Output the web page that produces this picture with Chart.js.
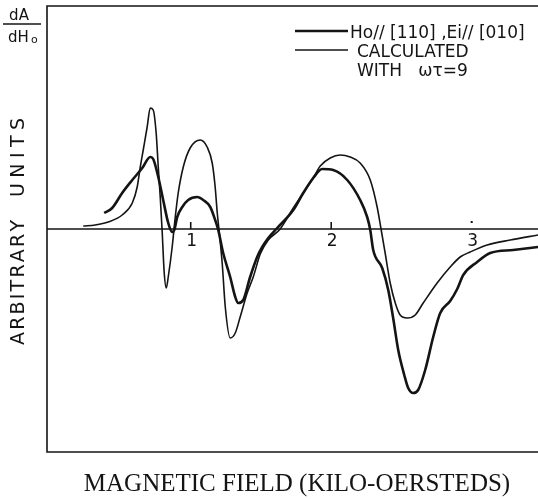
<!DOCTYPE html>
<html>
<head>
<meta charset="utf-8">
<script src="https://cdn.jsdelivr.net/npm/chart.js@4.4.1/dist/chart.umd.min.js"></script>
<style>
  html, body { margin: 0; padding: 0; background: #fff; }
  canvas { display: block; }
</style>
</head>
<body>
<canvas id="c" width="538" height="499"></canvas>
<script>
// field ticks (kilo-oersteds)
const fieldTicks = [1, 2, 3];

// thin curve (sharp, large swings)
const thinX = [0.235, 0.320, 0.413, 0.512, 0.584, 0.619, 0.641, 0.662, 0.690, 0.712, 0.733, 0.754, 0.769, 0.783, 0.797, 0.811, 0.826, 0.840, 0.868, 0.890, 0.911, 0.947, 0.996, 1.068, 1.117, 1.153, 1.174, 1.189, 1.203, 1.224, 1.246, 1.281, 1.317, 1.352, 1.402, 1.445, 1.495, 1.552, 1.637, 1.730, 1.801, 1.872, 1.922, 1.993, 2.064, 2.135, 2.206, 2.278, 2.327, 2.356, 2.384, 2.420, 2.456, 2.491, 2.541, 2.598, 2.655, 2.754, 2.847, 2.918, 2.989, 3.110, 3.274, 3.473];
const thinY = [0.3, 0.4, 0.7, 1.4, 2.6, 4.2, 6.2, 7.9, 10.2, 12.1, 11.9, 9.6, 6.2, 3.2, -0.3, -4.3, -5.9, -4.8, -1.8, 1.2, 3.6, 6.2, 8.1, 8.9, 8.2, 6.6, 4.2, 1.6, -0.3, -3.4, -7.8, -10.9, -10.4, -8.8, -6.4, -4.8, -2.5, -1.1, 0.0, 2.1, 3.6, 5.1, 6.3, 7.1, 7.4, 7.2, 6.6, 4.9, 2.2, -0.1, -2.4, -5.4, -7.4, -8.6, -8.9, -8.6, -7.4, -5.4, -3.8, -2.8, -2.3, -1.6, -1.1, -0.6];

// thick curve
const thickX = [0.384, 0.441, 0.512, 0.584, 0.655, 0.712, 0.733, 0.769, 0.804, 0.840, 0.868, 0.883, 0.904, 0.940, 0.982, 1.046, 1.089, 1.139, 1.174, 1.196, 1.231, 1.281, 1.317, 1.338, 1.374, 1.423, 1.473, 1.509, 1.552, 1.609, 1.730, 1.801, 1.872, 1.936, 2.014, 2.114, 2.206, 2.256, 2.278, 2.299, 2.363, 2.406, 2.441, 2.477, 2.520, 2.548, 2.584, 2.619, 2.669, 2.726, 2.776, 2.847, 2.897, 2.940, 3.039, 3.132, 3.295, 3.473];
const thickY = [1.6, 2.1, 3.6, 4.9, 6.1, 7.2, 7.0, 5.2, 2.9, 0.6, -0.3, -0.1, 1.2, 2.2, 2.9, 3.2, 2.9, 2.2, 0.9, -0.1, -2.4, -4.8, -6.8, -7.4, -7.1, -4.8, -2.8, -1.8, -0.9, 0.0, 1.9, 3.6, 5.1, 6.0, 5.9, 4.9, 2.9, 1.2, -0.1, -2.1, -3.9, -6.1, -8.9, -12.1, -14.6, -15.9, -16.4, -16.1, -14.1, -10.8, -8.4, -7.2, -6.0, -4.6, -3.3, -2.4, -2.1, -1.8];

const legendLines = ['Ho// [110] ,Ei// [010]', 'CALCULATED', 'WITH   \u03C9\u03C4=9'];

const ink = '#141414';
const toPts = (xs, ys) => xs.map((x, i) => ({ x: x, y: ys[i] }));

// spread letters evenly over a given width
function spreadText(ctx, text, x, y, width) {
    const ws = [...text].map(ch => ctx.measureText(ch).width);
    const total = ws.reduce((a, b) => a + b, 0);
    const gap = text.length > 1 ? (width - total) / (text.length - 1) : 0;
    let cx = x;
    [...text].forEach((ch, i) => {
        ctx.fillText(ch, cx, y);
        cx += ws[i] + gap;
    });
}

const decor = {
    id: 'decor',
    beforeDatasetsDraw(chart) {
        const { ctx, chartArea: a, scales: { x, y } } = chart;
        const y0 = y.getPixelForValue(0);
        ctx.save();
        ctx.strokeStyle = ink;
        ctx.lineWidth = 1.6;
        ctx.beginPath();
        ctx.moveTo(a.right, a.top);
        ctx.lineTo(a.left, a.top);
        ctx.lineTo(a.left, a.bottom);
        ctx.lineTo(a.right, a.bottom);
        ctx.moveTo(a.left, y0);
        ctx.lineTo(a.right, y0);
        ctx.stroke();

        // ticks on the zero line
        ctx.fillStyle = ink;
        ctx.font = '17px "DejaVu Sans"';
        ctx.textAlign = 'center';
        ctx.textBaseline = 'top';
        fieldTicks.forEach(v => {
            const px = x.getPixelForValue(v);
            if (v < 3) {
                ctx.beginPath();
                ctx.moveTo(px, y0 - 7);
                ctx.lineTo(px, y0);
                ctx.stroke();
            } else {
                ctx.fillRect(px - 1, y0 - 8, 2, 2);
            }
            ctx.fillText(String(v), px + 1, y0 + 4);
        });
        ctx.restore();
    },
    afterDraw(chart) {
        const { ctx } = chart;
        const ds = chart.data.datasets;
        ctx.save();
        ctx.fillStyle = ink;
        ctx.strokeStyle = ink;

        // dA / dHo
        ctx.font = '15px "DejaVu Sans"';
        ctx.textAlign = 'center';
        ctx.textBaseline = 'alphabetic';
        ctx.fillText('dA', 19, 20);
        ctx.lineWidth = 1.4;
        ctx.beginPath();
        ctx.moveTo(3, 24);
        ctx.lineTo(41, 24);
        ctx.stroke();
        ctx.textAlign = 'left';
        ctx.fillText('dH', 8, 42);
        ctx.font = '11px "DejaVu Sans"';
        ctx.fillText('o', 31, 43);

        // rotated y title
        ctx.save();
        ctx.translate(19, 236);
        ctx.rotate(-Math.PI / 2);
        ctx.font = '19px "DejaVu Sans"';
        ctx.textAlign = 'left';
        ctx.textBaseline = 'middle';
        spreadText(ctx, 'ARBITRARY', -109, 0, 125);
        spreadText(ctx, 'UNITS', 39, 0, 79);
        ctx.restore();

        // legend
        const sx0 = 295, sx1 = 348;
        [[31, ds[1].borderWidth], [50, ds[0].borderWidth]].forEach(([ly, lw]) => {
            ctx.lineWidth = lw;
            ctx.beginPath();
            ctx.moveTo(sx0, ly);
            ctx.lineTo(sx1, ly);
            ctx.stroke();
        });
        ctx.font = '17px "DejaVu Sans"';
        ctx.textAlign = 'left';
        ctx.textBaseline = 'alphabetic';
        ctx.fillText(legendLines[0], 350, 38, 184);
        ctx.fillText(legendLines[1], 357, 57);
        ctx.fillText(legendLines[2], 357, 76);

        // x title
        ctx.font = '25px "Liberation Serif"';
        ctx.textAlign = 'center';
        ctx.fillText('MAGNETIC FIELD (KILO-OERSTEDS)', 297, 491);
        ctx.restore();
    }
};

new Chart(document.getElementById('c'), {
    type: 'line',
    data: {
        datasets: [
            {
                label: 'thin',
                data: toPts(thinX, thinY),
                borderColor: ink,
                borderWidth: 1.6,
                pointRadius: 0,
                fill: false,
                cubicInterpolationMode: 'monotone'
            },
            {
                label: 'thick',
                data: toPts(thickX, thickY),
                borderColor: ink,
                borderWidth: 2.6,
                pointRadius: 0,
                fill: false,
                cubicInterpolationMode: 'monotone'
            }
        ]
    },
    options: {
        responsive: false,
        devicePixelRatio: 1,
        animation: false,
        layout: { padding: { left: 47, right: 0, top: 6, bottom: 47 } },
        scales: {
            x: { type: 'linear', min: -0.023, max: 3.472, display: false },
            y: { type: 'linear', min: -22.3, max: 22.3, display: false }
        },
        plugins: {
            legend: { display: false },
            tooltip: { enabled: false }
        }
    },
    plugins: [decor]
});
</script>
</body>
</html>
